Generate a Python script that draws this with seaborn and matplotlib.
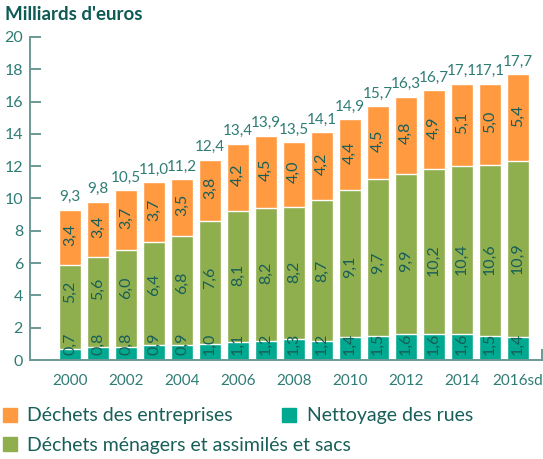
import numpy as np
import pandas as pd
import matplotlib
matplotlib.use("Agg")
import matplotlib.pyplot as plt
from matplotlib.lines import Line2D
import seaborn as sns

# Coûts de gestion des déchets, en milliards d'euros
years = ["2000", "2001", "2002", "2003", "2004", "2005", "2006", "2007", "2008",
         "2009", "2010", "2011", "2012", "2013", "2014", "2015", "2016sd"]
nettoyage = [0.7, 0.8, 0.8, 0.9, 0.9, 1.0, 1.1, 1.2, 1.3, 1.2, 1.4, 1.5, 1.6, 1.6, 1.6, 1.5, 1.4]
menagers = [5.2, 5.6, 6.0, 6.4, 6.8, 7.6, 8.1, 8.2, 8.2, 8.7, 9.1, 9.7, 9.9, 10.2, 10.4, 10.6, 10.9]
entreprises = [3.4, 3.4, 3.7, 3.7, 3.5, 3.8, 4.2, 4.5, 4.0, 4.2, 4.4, 4.5, 4.8, 4.9, 5.1, 5.0, 5.4]
totals = [9.3, 9.8, 10.5, 11.0, 11.2, 12.4, 13.4, 13.9, 13.5, 14.1, 14.9, 15.7, 16.3, 16.7, 17.1, 17.1, 17.7]
xtick_labels = ["2000", "", "2002", "", "2004", "", "2006", "", "2008", "", "2010", "",
                "2012", "", "2014", "", "2016sd"]
yticks = [0, 2, 4, 6, 8, 10, 12, 14, 16, 18, 20]

C_ORANGE = "#FF9A40"
C_GREEN = "#8FAE4E"
C_TEAL = "#00A98F"
C_TEXT = "#175F58"
C_AXIS = "#6A9994"
C_TICK = "#2F7C75"

sns.set_theme(style="white")
plt.rcParams["font.family"] = ["Lato", "DejaVu Sans"]

df = pd.DataFrame({"annee": years, "nettoyage": nettoyage,
                   "menagers": menagers, "entreprises": entreprises, "total": totals})
df["base_ent"] = df["nettoyage"] + df["menagers"]
df["top"] = df["base_ent"] + df["entreprises"]

fig = plt.figure(figsize=(5.43, 4.59), dpi=100)
ax = fig.add_axes([30 / 543, 1 - 360 / 459, 512 / 543, 323 / 459])

W = 0.79
sns.barplot(data=df, x="annee", y="top", order=years, color=C_ORANGE,
            width=W, saturation=1, ax=ax, errorbar=None)
sns.barplot(data=df, x="annee", y="base_ent", order=years, color=C_GREEN,
            width=W, saturation=1, ax=ax, errorbar=None)
sns.barplot(data=df, x="annee", y="nettoyage", order=years, color=C_TEAL,
            width=W, saturation=1, ax=ax, errorbar=None)

def fr(v):
    return f"{v:.1f}".replace(".", ",")

lab_kw = dict(rotation=90, ha="center", va="center", color=C_TEXT, fontsize=11.5)
for i, r in df.iterrows():
    # rues
    ax.text(i, 1.0, fr(r["nettoyage"]), **lab_kw)
    # ménagers
    mid = r["nettoyage"] + r["menagers"] / 2
    ax.text(i, 2.26 + 0.59 * mid, fr(r["menagers"]), **lab_kw)
    # entreprises
    ax.text(i, r["base_ent"] + r["entreprises"] / 2 + 0.15, fr(r["entreprises"]), **lab_kw)
    # total
    ax.annotate(fr(r["total"]), (i, r["top"]), xytext=(0, 4), textcoords="offset points",
                ha="center", va="bottom", color=C_TICK, fontsize=11)

ax.set_xlim(-1.43, 16.86)
ax.set_ylim(0, 20)
ax.set_yticks(yticks)
ax.set_yticklabels([str(t) for t in yticks])
ax.set_xticks(range(len(years)))
ax.set_xticklabels(xtick_labels)
ax.set_xlabel("")
ax.set_ylabel("")

ax.spines["top"].set_visible(False)
ax.spines["right"].set_bounds(0, 0.6)
for s in ["left", "bottom", "right"]:
    ax.spines[s].set_color(C_AXIS)
    ax.spines[s].set_linewidth(1.4)
ax.tick_params(axis="y", direction="in", length=8, width=1.4, color=C_AXIS,
               labelcolor=C_TICK, labelsize=11.5, pad=5, left=True)
ax.tick_params(axis="x", length=0, labelcolor=C_TICK, labelsize=11, pad=10)

fig.text(5 / 543, 1 - 14 / 459, "Milliards d'euros", ha="left", va="center",
         fontsize=13.5, fontweight="bold", color="#0E5A54")

def handle(c):
    return Line2D([], [], marker="s", linestyle="none", markersize=10,
                  markerfacecolor=c, markeredgecolor=c)

leg_kw = dict(frameon=False, fontsize=14, labelcolor=C_TEXT, handlelength=0.8,
              handletextpad=0.5, borderaxespad=0, borderpad=0)
fig.legend([handle(C_ORANGE), handle(C_TEAL)],
           ["Déchets des entreprises", "Nettoyage des rues"],
           loc="center left", bbox_to_anchor=(2 / 543, 1 - 416 / 459), ncol=2,
           columnspacing=2.5, **leg_kw)
fig.legend([handle(C_GREEN)], ["Déchets ménagers et assimilés et sacs"],
           loc="center left", bbox_to_anchor=(2 / 543, 1 - 445 / 459), **leg_kw)

fig.savefig("out.png", dpi=100)
